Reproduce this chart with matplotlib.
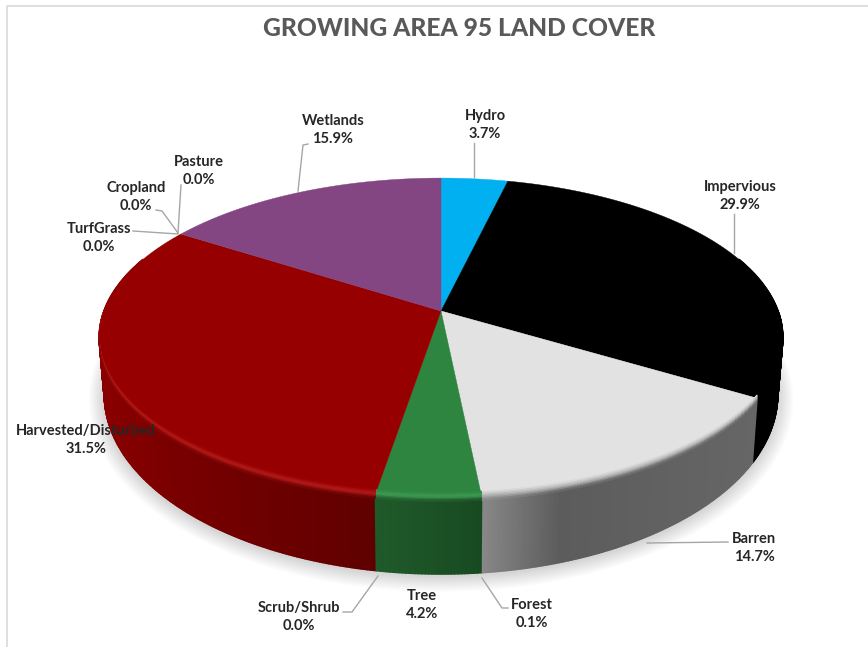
import numpy as np
import matplotlib
matplotlib.use('Agg')
import matplotlib.pyplot as plt
from matplotlib.collections import PolyCollection
from matplotlib.colors import to_rgb

plt.rcParams['font.family'] = ['Lato', 'DejaVu Sans']

labels = ['Hydro', 'Impervious', 'Barren', 'Forest', 'Tree', 'Scrub/Shrub',
          'Harvested/Disturbed', 'TurfGrass', 'Cropland', 'Pasture', 'Wetlands']
values = [3.7, 29.9, 14.7, 0.1, 4.2, 0.0, 31.5, 0.0, 0.0, 0.0, 15.9]
face_colors = ['#00b0f0', '#000000', '#e2e2e2', '#e2e2e2', '#2e8540', '#2e8540',
               '#960000', '#960000', '#960000', '#960000', '#834682']
title = 'GROWING AREA 95 LAND COVER'

# pixel position of the label centres and their leader lines
label_pos = [(485, 125), (740, 196), (754, 548), (532, 614), (422, 605), (299, 617),
             (86, 440), (99, 238), (136, 197), (199, 171), (333, 130)]
leaders = [[(474, 143), (474, 177)],
           [(734, 214), (734, 253)],
           [(728, 542), (647, 543)],
           [(508, 608), (502, 608), (482, 578)],
           None,
           [(343, 612), (352, 612), (378, 576)],
           None,
           [(133, 231), (178, 234)],
           [(156, 210), (162, 211), (178, 233)],
           [(181, 185), (178, 233)],
           [(308, 144), (303, 145), (298, 191)]]

# side shading, as (x pixel, colour) stops
side_stops = {
    '#960000': [(100, '#8a0000'), (180, '#780000'), (377, '#5f0000')],
    '#2e8540': [(377, '#1f5a2a'), (483, '#184a22')],
    '#e2e2e2': [(483, '#878787'), (560, '#5c5c5c'), (757, '#666666')],
    '#000000': [(0, '#000000'), (868, '#000000')],
    '#00b0f0': [(0, '#0090c8'), (868, '#0090c8')],
    '#834682': [(0, '#5e3260'), (868, '#5e3260')],
}
rim_light = {'#960000': '#b81c1c', '#2e8540': '#3f9d54', '#e2e2e2': '#b4b4b4',
             '#000000': '#000000', '#00b0f0': '#00b0f0', '#834682': '#834682'}


def project(theta, r=1.0):
    # circle in perspective, theta clockwise from the top
    u = r * np.sin(theta)
    v = r * np.cos(theta)
    w = 1 + 0.166 * v
    return 441 + 337 * u / w, 311 - 155 * v / w


def drop(x, y):
    # same point on the underside of the disc
    return 441 + (x - 441) * 0.985, y + 65 + (y - 400) * 0.125


def side_color(face, x):
    stops = side_stops[face]
    xs = [s[0] for s in stops]
    rgb = np.array([to_rgb(s[1]) for s in stops])
    return [np.interp(x, xs, rgb[:, i]) for i in range(3)]


def mix(a, b, t):
    return tuple((1 - t) * np.array(a) + t * np.array(b))


fig = plt.figure(figsize=(8.68, 6.47), dpi=100)
ax = fig.add_axes([0, 0, 1, 1])
ax.set_xlim(0, 868)
ax.set_ylim(647, 0)
ax.axis('off')

ax.plot([7, 7, 868], [647, 6, 6], color='#d9d9d9', lw=1.2, zorder=0)

# soft shadow under the disc
tt = np.linspace(0, 2 * np.pi, 400)
bx, by = drop(*project(tt))
for grow in np.linspace(16, 1, 14):
    sx = 441 + (bx - 441) * (1 + grow / 342)
    sy = 345 + (by - 345) * (1 + grow / 230) + 2
    ax.fill(sx, sy, color='black', alpha=0.011, lw=0, zorder=1)

edges = np.cumsum([0] + values) / sum(values) * 2 * np.pi

# outer wall
polys, cols = [], []
for i in range(len(values)):
    if values[i] == 0:
        continue
    th = np.linspace(edges[i], edges[i + 1], max(3, int(values[i] * 8)))
    for a, b in zip(th[:-1], th[1:]):
        if np.cos((a + b) / 2) > 0.35:
            continue
        xa, ya = project(a)
        xb, yb = project(b)
        xc, yc = drop(xb, yb)
        xd, yd = drop(xa, ya)
        polys.append([(xa, ya), (xb, yb), (xc, yc), (xd, yd)])
        cols.append(side_color(face_colors[i], (xa + xb) / 2))
order = np.argsort([p[0][1] for p in polys])
ax.add_collection(PolyCollection([polys[k] for k in order], facecolors=[cols[k] for k in order],
                                 edgecolors=[cols[k] for k in order], linewidths=1.2, zorder=2))

# top faces
for i in range(len(values)):
    if values[i] == 0:
        continue
    th = np.linspace(edges[i], edges[i + 1], max(3, int(values[i] * 8)))
    ex, ey = project(th)
    ax.fill(np.r_[441, ex], np.r_[311, ey], color=face_colors[i], lw=0.3, zorder=3)

# bevel along the front rim
polys, cols = [], []
layers = np.linspace(0, 1, 7)
for i in range(len(values)):
    if values[i] == 0:
        continue
    face = face_colors[i]
    th = np.linspace(edges[i], edges[i + 1], max(3, int(values[i] * 8)))
    for a, b in zip(th[:-1], th[1:]):
        va = np.cos(a)
        vb = np.cos(b)
        if max(va, vb) > 0.0:
            continue
        xa, ya = project(a)
        xb, yb = project(b)
        ha, hb = 9 * (-va) ** 0.5, 9 * (-vb) ** 0.5
        for t0, t1 in zip(layers[:-1], layers[1:]):
            tm = (t0 + t1) / 2
            side = side_color(face, (xa + xb) / 2)
            if tm < 0.5:
                c = mix(to_rgb(face), to_rgb(rim_light[face]), tm * 2)
            else:
                c = mix(to_rgb(rim_light[face]), side, (tm - 0.5) * 2)
            polys.append([(xa, ya - ha * 0.5 + ha * t0), (xb, yb - hb * 0.5 + hb * t0),
                          (xb, yb - hb * 0.5 + hb * t1), (xa, ya - ha * 0.5 + ha * t1)])
            cols.append(c)
ax.add_collection(PolyCollection(polys, facecolors=cols, edgecolors=cols, linewidths=0.6, zorder=4))

# leaders and labels
for pts in leaders:
    if pts is not None:
        ax.plot([p[0] for p in pts], [p[1] for p in pts], color='#a6a6a6', lw=1.0, zorder=5)
for name, val, (x, y) in zip(labels, values, label_pos):
    ax.text(x, y, f'{name}\n{val:.1f}%', ha='center', va='center', fontsize=10.5, fontweight='bold',
            color='#262626', linespacing=1.42, zorder=6)

ax.text(459, 28, title, ha='center', va='center', fontsize=17.7, fontweight='black', color='#595959')

fig.savefig('out.png', dpi=100)
